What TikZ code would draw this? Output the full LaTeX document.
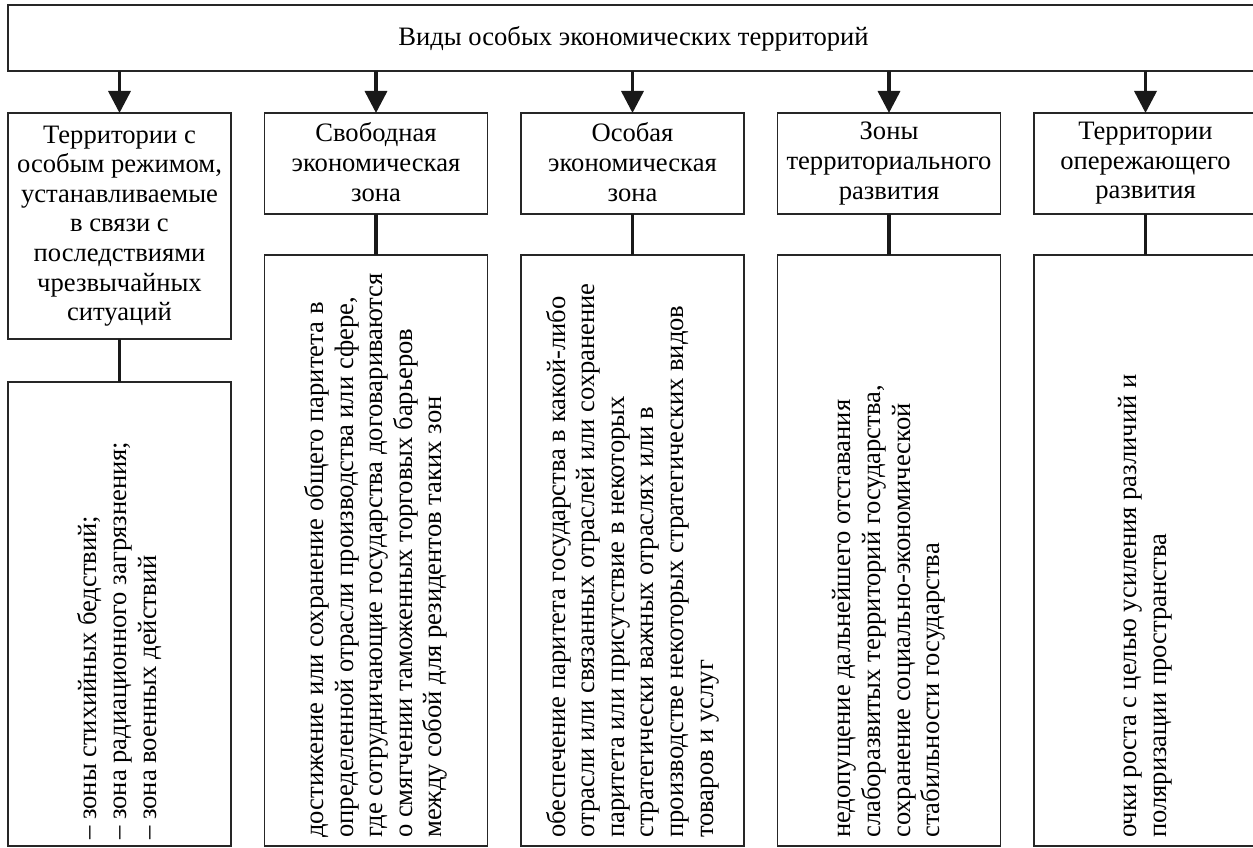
\documentclass[tikz,border=0pt]{standalone}
\usepackage{fontspec}
\setmainfont{Liberation Serif}
\usetikzlibrary{arrows.meta}
\begin{document}
\begin{tikzpicture}[x=1pt,y=-1pt,
  box/.style={draw=black!85, line width=1.1pt, inner sep=0pt, outer sep=0pt, fill=white},
  txt/.style={font=\fontsize{26.6}{29.6}\selectfont, execute at begin node={\rule{0pt}{20pt}}, execute at end node={\rule[-3pt]{0pt}{3pt}}},
  head/.style={box, txt, minimum width=223pt, align=center, anchor=north},
  lowbox/.style={box, minimum width=223pt, anchor=south},
  vtext/.style={txt, rotate=90, anchor=west, align=left, inner sep=0pt},
  arr/.style={line width=3.5pt, draw=black!90, -{Triangle[width=22pt,length=22pt]}},
  link/.style={line width=3.5pt, draw=black!90}]
\path[use as bounding box] (0,0) rectangle (1253,848);
\clip (0,0) rectangle (1253,848);
\node[box, txt, anchor=north west, minimum width=1251pt, minimum height=66pt] (top) at (8,5) {Виды особых экономических территорий};
\node[head, minimum height=226pt] (h1) at (119.5,113) {Территории с\\особым режимом,\\устанавливаемые\\в связи с\\последствиями\\чрезвычайных\\ситуаций};
\node[head, minimum height=101pt] (h2) at (376,113) {Свободная\\экономическая\\зона};
\node[head, minimum height=101pt] (h3) at (632.5,113) {Особая\\экономическая\\зона};
\node[head, minimum height=101pt] (h4) at (889,113) {Зоны\\территориального\\развития};
\node[head, minimum height=101pt] (h5) at (1145.5,113) {Территории\\опережающего\\развития};
\node[lowbox, minimum height=464pt] (l1) at (119.5,846) {};
\node[lowbox, minimum height=591pt] (l2) at (376,846) {};
\node[lowbox, minimum height=591pt] (l3) at (632.5,846) {};
\node[lowbox, minimum height=591pt] (l4) at (889,846) {};
\node[lowbox, minimum height=591pt] (l5) at (1145.5,846) {};
\node[vtext] (t1) at ([yshift=6pt]l1.south) {– зоны стихийных бедствий;\\– зона радиационного загрязнения;\\– зона военных действий};
\node[vtext] (t2) at ([yshift=8pt]l2.south) {достижение или сохранение общего паритета в\\определенной отрасли производства или сфере,\\где сотрудничающие государства договариваются\\о смягчении таможенных торговых барьеров\\между собой для резидентов таких зон};
\node[vtext] (t3) at ([yshift=8pt]l3.south) {обеспечение паритета государства в какой-либо\\отрасли или связанных отраслей или сохранение\\паритета или присутствие в некоторых\\стратегически важных отраслях или в\\производстве некоторых стратегических видов\\товаров и услуг};
\node[vtext] (t4) at ([yshift=8pt]l4.south) {недопущение дальнейшего отставания\\слаборазвитых территорий государства,\\сохранение социально-экономической\\стабильности государства};
\node[vtext] (t5) at ([yshift=8pt]l5.south) {очки роста с целью усиления различий и\\поляризации пространства};
\foreach \i in {1,...,5}{
  \draw[arr] (top.south -| h\i.north) -- (h\i.north);
  \draw[link] (h\i.south) -- (l\i.north);
}
\end{tikzpicture}
\end{document}
